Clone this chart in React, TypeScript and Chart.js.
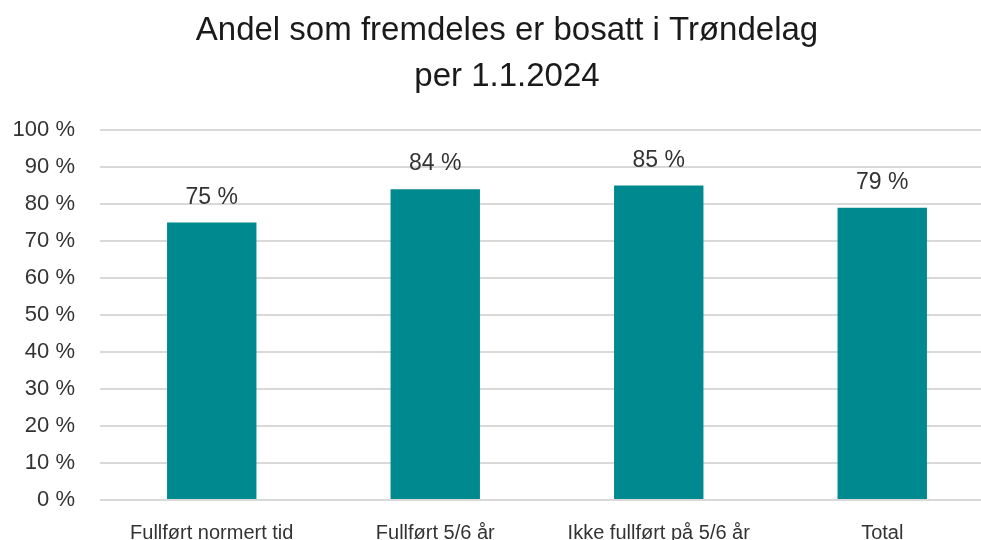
import React, { useEffect, useRef } from "react";
import { Chart, registerables } from "chart.js";

Chart.register(...registerables);

const titleLines = ["Andel som fremdeles er bosatt i Trøndelag", "per 1.1.2024"];
const categories = ["Fullført normert tid", "Fullført 5/6 år", "Ikke fullført på 5/6 år", "Total"];
const shares = [75, 84, 85, 79];
const yTicksMin = 0;
const yTicksMax = 100;
const yTickStep = 10;

const BAR_COLOR = "#00898E";
const TEXT_COLOR = "#333333";
const GRID_COLOR = "#d9d9d9";

const titlePlugin = {
  id: "customTitle",
  afterDraw(chart: any) {
    const ctx = chart.ctx;
    ctx.save();
    ctx.fillStyle = "#1a1a1a";
    ctx.font = "33px 'Liberation Sans', Arial, sans-serif";
    ctx.textAlign = "center";
    ctx.textBaseline = "alphabetic";
    ctx.fillText(titleLines[0], 507, 40);
    ctx.fillText(titleLines[1], 507, 86);
    ctx.restore();
  },
};

const valueLabelPlugin = {
  id: "valueLabels",
  afterDatasetsDraw(chart: any) {
    const ctx = chart.ctx;
    const meta = chart.getDatasetMeta(0);
    ctx.save();
    ctx.fillStyle = TEXT_COLOR;
    ctx.font = "23px 'Liberation Sans', Arial, sans-serif";
    ctx.textAlign = "center";
    ctx.textBaseline = "alphabetic";
    meta.data.forEach((bar: any, i: number) => {
      ctx.fillText(`${shares[i]} %`, bar.x, bar.y - 19);
    });
    ctx.restore();
  },
};

export default function App() {
  const canvasRef = useRef<HTMLCanvasElement | null>(null);

  useEffect(() => {
    const canvas = canvasRef.current;
    if (!canvas) return;
    const chart = new Chart(canvas, {
      type: "bar",
      data: {
        labels: categories,
        datasets: [
          {
            data: shares,
            backgroundColor: BAR_COLOR,
            borderWidth: 0,
            barPercentage: 0.4,
            categoryPercentage: 1,
          },
        ],
      },
      options: {
        responsive: false,
        animation: false,
        devicePixelRatio: 1,
        layout: { padding: { top: 130, right: 21, left: 0, bottom: 0 } },
        plugins: {
          legend: { display: false },
          title: { display: false },
          tooltip: { enabled: false },
        },
        scales: {
          x: {
            grid: { display: false, drawTicks: false },
            border: { display: false },
            ticks: {
              color: TEXT_COLOR,
              font: { family: "'Liberation Sans', Arial, sans-serif", size: 20 },
              padding: 21,
              maxRotation: 0,
              autoSkip: false,
            },
            afterFit(scale: any) {
              scale.height = 60;
            },
          },
          y: {
            min: yTicksMin,
            max: yTicksMax,
            grid: { color: GRID_COLOR, lineWidth: 2, drawTicks: false },
            border: { display: false },
            ticks: {
              stepSize: yTickStep,
              color: TEXT_COLOR,
              font: { family: "'Liberation Sans', Arial, sans-serif", size: 22 },
              padding: 25,
              callback: (v: any) => `${v} %`,
            },
            afterFit(scale: any) {
              scale.width = 100;
            },
          },
        },
      },
      plugins: [titlePlugin, valueLabelPlugin],
    });
    return () => chart.destroy();
  }, []);

  return (
    <div
      style={{
        position: "fixed",
        top: 0,
        left: 0,
        width: 981,
        height: 540,
        overflow: "hidden",
        background: "#ffffff",
      }}
    >
      <canvas ref={canvasRef} width={1015} height={560} style={{ display: "block", width: 1015, height: 560 }} />
    </div>
  );
}
